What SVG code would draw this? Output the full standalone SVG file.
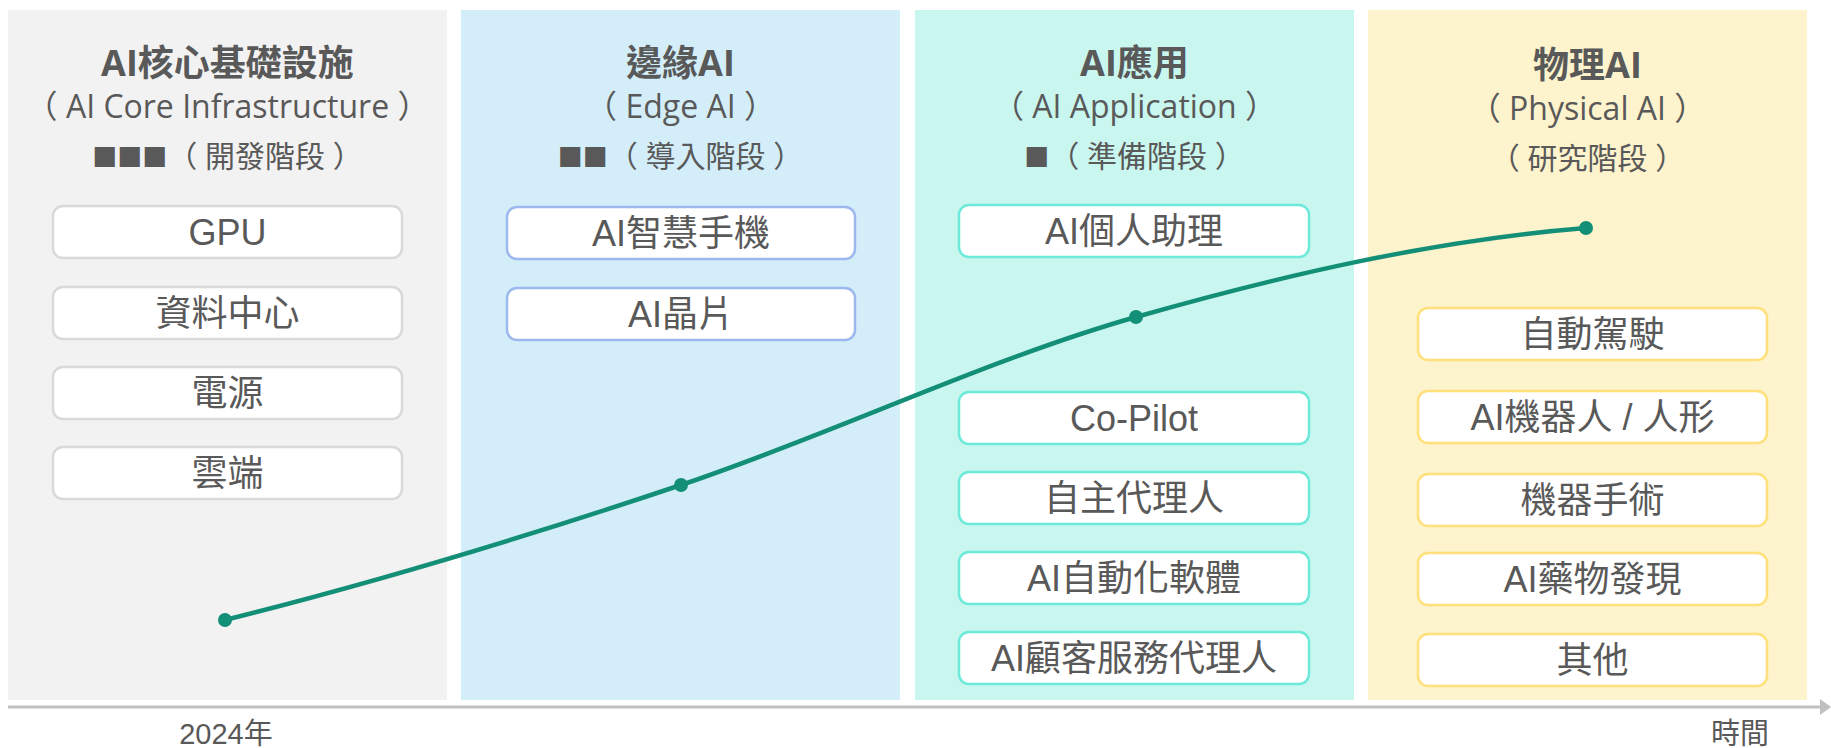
<svg xmlns="http://www.w3.org/2000/svg" width="1831" height="748" viewBox="0 0 1831 748">
<style>
.t1{font-family:"Open Sans","Noto Sans CJK TC",sans-serif;font-weight:bold;font-size:36px;fill:#595959;text-anchor:middle}
.t2{font-family:"Open Sans","Noto Sans CJK TC",sans-serif;font-size:32px;fill:#595959;text-anchor:middle}
.t3{font-family:"Open Sans","Noto Sans CJK TC",sans-serif;font-size:30px;fill:#595959;text-anchor:middle}
.sq{font-family:"Noto Sans CJK TC",sans-serif;font-size:25px}
.lbl{font-family:"Liberation Sans","Noto Sans CJK TC",sans-serif;font-size:36px;fill:#595959;text-anchor:middle}
.ax{font-family:"Liberation Sans","Noto Sans CJK TC",sans-serif;font-size:29px;fill:#595959;text-anchor:middle}
.n rect{fill:#ffffff;stroke-width:2.5}
.g rect{stroke:#d9d9d9}
.b rect{stroke:#9db8ee}
.c rect{stroke:#6eeadb}
.y rect{stroke:#ffe07a}
.dot{fill:#148f77}
</style>
<g id="panels">
<rect x="8" y="10" width="439" height="690" fill="#f2f2f2"/>
<rect x="461" y="10" width="439" height="690" fill="#d3eef9"/>
<rect x="915" y="10" width="439" height="690" fill="#c9f6ef"/>
<rect x="1368" y="10" width="439" height="690" fill="#fdf3cc"/>
</g>
<g id="titles">
<g id="title-core">
<text class="t1" x="227.5" y="76">AI核心基礎設施</text>
<text class="t2" x="227.5" y="118">（ AI Core Infrastructure ）</text>
<text class="t3" x="227.5" y="167"><tspan class="sq">■■■</tspan>（ 開發階段 ）</text>
</g>
<g id="title-edge">
<text class="t1" x="680.5" y="76">邊緣AI</text>
<text class="t2" x="680.5" y="118">（ Edge AI ）</text>
<text class="t3" x="680.5" y="167"><tspan class="sq">■■</tspan>（ 導入階段 ）</text>
</g>
<g id="title-app">
<text class="t1" x="1134.5" y="76">AI應用</text>
<text class="t2" x="1134.5" y="118">（ AI Application ）</text>
<text class="t3" x="1134.5" y="167"><tspan class="sq">■</tspan>（ 準備階段 ）</text>
</g>
<g id="title-phys">
<text class="t1" x="1587.5" y="78">物理AI</text>
<text class="t2" x="1587.5" y="120">（ Physical AI ）</text>
<text class="t3" x="1587.5" y="169">（ 研究階段 ）</text>
</g>
</g>
<g id="nodes">
<g id="n-gpu" class="n g"><rect x="53" y="206" width="349" height="52" rx="10"/><text class="lbl" x="227.5" y="245">GPU</text></g>
<g id="n-dc" class="n g"><rect x="53" y="287" width="349" height="52" rx="10"/><text class="lbl" x="227.5" y="326">資料中心</text></g>
<g id="n-power" class="n g"><rect x="53" y="367" width="349" height="52" rx="10"/><text class="lbl" x="227.5" y="406">電源</text></g>
<g id="n-cloud" class="n g"><rect x="53" y="447" width="349" height="52" rx="10"/><text class="lbl" x="227.5" y="486">雲端</text></g>

<g id="n-phone" class="n b"><rect x="507" y="207" width="348" height="52" rx="10"/><text class="lbl" x="681" y="246">AI智慧手機</text></g>
<g id="n-chip" class="n b"><rect x="507" y="288" width="348" height="52" rx="10"/><text class="lbl" x="681" y="327">AI晶片</text></g>

<g id="n-assist" class="n c"><rect x="959" y="205" width="350" height="52" rx="10"/><text class="lbl" x="1134" y="244">AI個人助理</text></g>
<g id="n-copilot" class="n c"><rect x="959" y="392" width="350" height="52" rx="10"/><text class="lbl" x="1134" y="431">Co-Pilot</text></g>
<g id="n-agent" class="n c"><rect x="959" y="472" width="350" height="52" rx="10"/><text class="lbl" x="1134" y="511">自主代理人</text></g>
<g id="n-auto" class="n c"><rect x="959" y="552" width="350" height="52" rx="10"/><text class="lbl" x="1134" y="591">AI自動化軟體</text></g>
<g id="n-cs" class="n c"><rect x="959" y="632" width="350" height="52" rx="10"/><text class="lbl" x="1134" y="671">AI顧客服務代理人</text></g>

<g id="n-drive" class="n y"><rect x="1418" y="308" width="349" height="52" rx="10"/><text class="lbl" x="1592.5" y="347">自動駕駛</text></g>
<g id="n-robot" class="n y"><rect x="1418" y="391" width="349" height="52" rx="10"/><text class="lbl" x="1592.5" y="430">AI機器人 / 人形</text></g>
<g id="n-surg" class="n y"><rect x="1418" y="474" width="349" height="52" rx="10"/><text class="lbl" x="1592.5" y="513">機器手術</text></g>
<g id="n-drug" class="n y"><rect x="1418" y="553" width="349" height="52" rx="10"/><text class="lbl" x="1592.5" y="592">AI藥物發現</text></g>
<g id="n-other" class="n y"><rect x="1418" y="634" width="349" height="52" rx="10"/><text class="lbl" x="1592.5" y="673">其他</text></g>
</g>
<g id="connectors">
<path d="M225,620 C377,582 529,536 681,485 C833,434 985,360 1136,317 C1287,274 1436,240 1586,228" fill="none" stroke="#148f77" stroke-width="4.5" stroke-linecap="round"/>
<circle class="dot" cx="225" cy="620" r="7"/>
<circle class="dot" cx="681" cy="485" r="7"/>
<circle class="dot" cx="1136" cy="317" r="7"/>
<circle class="dot" cx="1586" cy="228" r="7"/>
<line x1="8" y1="707" x2="1821" y2="707" stroke="#c0c0c0" stroke-width="3"/>
<polygon points="1820,699 1831,707 1820,715" fill="#c0c0c0"/>
</g>
<g id="axis-labels">
<text class="ax" x="226" y="744">2024年</text>
<text class="ax" x="1740" y="744">時間</text>
</g>
</svg>
